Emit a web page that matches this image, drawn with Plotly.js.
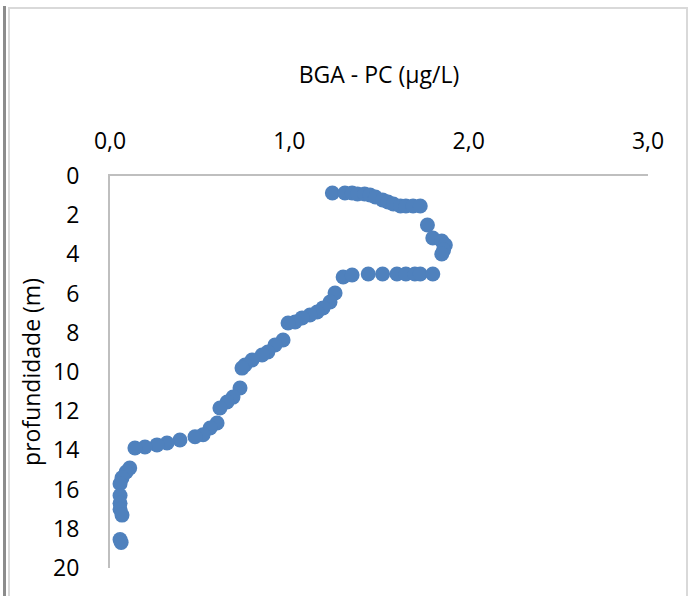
<!DOCTYPE html>
<html>
<head>
<meta charset="utf-8">
<script src="https://cdn.plot.ly/plotly-3.0.1.min.js"></script>
<style>
  html, body { margin: 0; padding: 0; background: #fff; }
  #wrap { position: relative; width: 691px; height: 596px; }
  #chart { width: 691px; height: 596px; }
  #frame { position: absolute; left: 8px; top: 7px; width: 676px; height: 600px;
           border: 2px solid #d9d9d9; pointer-events: none; }
  #edge { position: absolute; left: 3px; top: 6px; width: 3px; height: 600px;
          background: #8c8c8c; pointer-events: none; }
</style>
</head>
<body>
<div id="wrap">
  <div id="chart"></div>
  <div id="frame"></div>
  <div id="edge"></div>
</div>
<script>
// BGA - PC concentration (µg/L)
const bgaPC = [
  1.24, 1.31, 1.35, 1.38, 1.42, 1.45, 1.48, 1.52, 1.55, 1.58, 1.62, 1.65, 1.69, 1.73,
  1.77, 1.80, 1.85, 1.87, 1.86, 1.85,
  1.30, 1.35, 1.44, 1.52, 1.60, 1.65, 1.70, 1.73, 1.80,
  1.255, 1.227, 1.188, 1.155, 1.115, 1.071, 1.032, 0.993,
  0.965, 0.92, 0.88, 0.848, 0.792, 0.753, 0.736,
  0.725, 0.686, 0.653, 0.613,
  0.597, 0.558, 0.519, 0.474, 0.39, 0.318, 0.262, 0.195, 0.139,
  0.11, 0.09, 0.067, 0.056,
  0.056, 0.056, 0.056, 0.067,
  0.056, 0.062
];
// depth (m)
const depth = [
  0.87, 0.87, 0.87, 0.92, 0.92, 0.97, 1.07, 1.22, 1.33, 1.43, 1.53, 1.53, 1.53, 1.53,
  2.5, 3.16, 3.32, 3.52, 3.78, 3.98,
  5.15, 5.05, 5.0, 5.0, 5.0, 5.0, 5.0, 5.0, 5.0,
  5.97, 6.43, 6.73, 6.94, 7.09, 7.24, 7.45, 7.5,
  8.37, 8.62, 8.98, 9.13, 9.39, 9.64, 9.8,
  10.82, 11.28, 11.53, 11.84,
  12.6, 12.86, 13.2, 13.3, 13.47, 13.62, 13.72, 13.83, 13.88,
  14.9, 15.1, 15.4, 15.7,
  16.3, 16.7, 17.0, 17.3,
  18.55, 18.7
];
const xTickVals = [0, 1, 2, 3];
const xTickText = ['0,0', '1,0', '2,0', '3,0'];
const yTickVals = [0, 2, 4, 6, 8, 10, 12, 14, 16, 18, 20];

const font = { family: 'Open Sans, Liberation Sans, sans-serif', size: 23, color: '#000' };

Plotly.newPlot('chart', [{
  type: 'scatter', mode: 'markers',
  x: bgaPC, y: depth,
  marker: { color: '#4f81bd', size: 15, line: { width: 0 } },
  hoverinfo: 'skip'
}], {
  width: 691, height: 596,
  margin: { l: 110, r: 43, t: 176, b: 28 },
  paper_bgcolor: '#fff', plot_bgcolor: '#fff',
  showlegend: false,
  font: font,
  xaxis: {
    side: 'top', range: [0, 3], tickvals: xTickVals, ticktext: xTickText,
    showgrid: false, zeroline: false,
    showline: true, linecolor: '#bfbfbf', linewidth: 2,
    ticks: '', ticklabelstandoff: 16,
    title: { text: 'BGA - PC (µg/L)', font: font, standoff: 34 }
  },
  yaxis: {
    range: [20, 0], tickvals: yTickVals,
    showgrid: false, zeroline: false,
    showline: true, linecolor: '#bfbfbf', linewidth: 2,
    ticks: '', ticklabelstandoff: 24,
    title: { text: 'profundidade (m)', font: font, standoff: 6 }
  }
}, { staticPlot: true });
</script>
</body>
</html>
